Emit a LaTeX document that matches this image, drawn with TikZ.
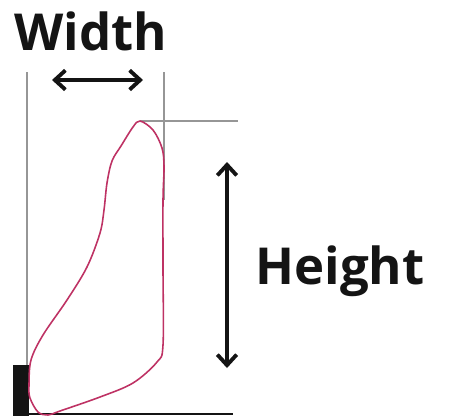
\documentclass[tikz,border=0pt]{standalone}
\usepackage{fontspec}
\setmainfont{Open Sans}
\usetikzlibrary{arrows.meta, positioning}
\definecolor{mygray}{RGB}{150,150,150}
\definecolor{mypink}{RGB}{190,50,100}
\definecolor{mydark}{RGB}{20,20,20}
\tikzset{
  guide/.style={line width=1.1pt, color=mygray},
  outline/.style={line width=0.9pt, color=mypink},
  dimarrow/.style={{Straight Barb[length=6pt, width=11pt]}-{Straight Barb[length=6pt, width=11pt]},
    line width=2.2pt, color=mydark},
  bigtext/.style={font=\bfseries\fontsize{29}{33}\selectfont, text=mydark, inner sep=0pt},
  base/.style={line width=1.4pt, color=mydark}
}

\begin{document}
\begin{tikzpicture}[x=0.02cm, y=-0.02cm]
  \useasboundingbox (0,0) rectangle (472,416);

  % guide lines
  \coordinate (lefttop) at (27,72);
  \coordinate (leftbot) at (27,366);
  \coordinate (righttop) at (164,72);
  \coordinate (rightbot) at (164,200);
  \coordinate (apexl) at (140,121);
  \coordinate (apexr) at (238,121);
  \draw[guide] (lefttop) -- (leftbot);
  \draw[guide] (righttop) -- (rightbot);
  \draw[guide] (apexl) -- (apexr);

  % ground
  \coordinate (gndl) at (27,414);
  \coordinate (gndr) at (233,414);
  \draw[base] (gndl) -- (gndr);
  \fill[mydark] (13,365) rectangle (29,416);

  % outline
  \draw[outline] plot[smooth cycle, tension=0.55] coordinates {
    (140,121) (153,130) (162,148) (164,167) (163,200) (163,267)
    (163,345) (157,362) (133,383) (100,397) (60,411) (48,415)
    (38,412) (30,398) (29,385) (31,360) (43,335) (67,300)
    (87,267) (100,233) (104,210) (107,183) (112,161) (121,146)
    (133,127)};

  % labels and dimension arrows
  \node[bigtext] (wlabel) at (91,31) {Width};
  \coordinate (wl) at (52,80);
  \coordinate (wr) at (143,80);
  \draw[dimarrow] (wl) -- (wr);

  \node[bigtext] (hlabel) at (340,271) {Height};
  \coordinate (ht) at (227,162);
  \coordinate (hb) at (227,368);
  \draw[dimarrow] (ht) -- (hb);
\end{tikzpicture}
\end{document}
